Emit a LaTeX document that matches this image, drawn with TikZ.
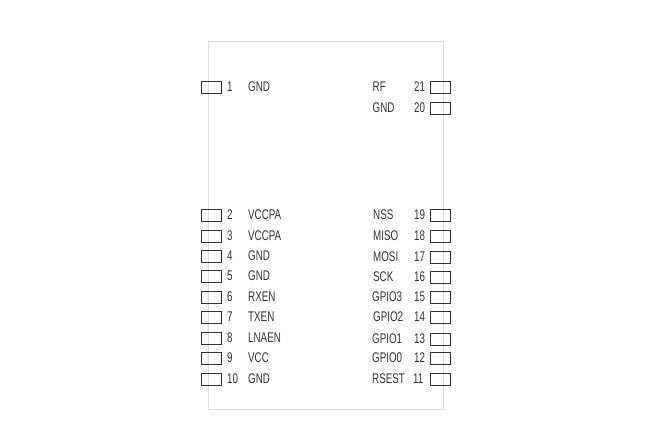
\documentclass[tikz,border=0pt]{standalone}
\usepackage{fontspec}
\setmainfont[FakeStretch=0.70]{Liberation Sans}
\tikzset{
  outline/.style={draw=black!13,line width=0.9pt,fill=none},
  pad/.style={draw=black!80,line width=0.9pt,fill=none,minimum width=20pt,minimum height=12pt,inner sep=0pt,outer sep=0pt},
  lbl/.style={anchor=west,inner sep=0pt,yshift=0.5pt,text=black!80,font=\fontsize{14}{15}\selectfont},
}
\begin{document}
\begin{tikzpicture}[x=1pt,y=-1pt]
\useasboundingbox (0,0) rectangle (649,447);
\node[outline,minimum width=235pt,minimum height=368pt,inner sep=0pt,outer sep=0pt] (module) at (326,225.5) {};
% left side: n / y / name
\foreach \n/\y/\t in {1/87.5/GND,2/215/VCCPA,3/236/VCCPA,4/256/GND,5/276.5/GND,6/297/RXEN,7/317.5/TXEN,8/338/LNAEN,9/358.5/VCC,10/379/GND}{
  \node[pad] (padL\n) at (211.5,\y) {};
  \node[lbl] (numL\n) at (227,\y) {\n};
  \node[lbl] (nameL\n) at (248,\y) {\t};
}
% right side: n / y / name x / name / num x
\foreach \n/\y/\x/\t/\m in {21/87.5/372.5/RF/414,20/108/372.5/GND/414,19/215.5/373/NSS/414,18/236.5/373/MISO/414,17/257.5/373/MOSI/414,16/277/373/SCK/414,15/297/372/GPIO3/414,14/317.5/373/GPIO2/414,13/339/372/GPIO1/414,12/358.5/372/GPIO0/414,11/379/372/RSEST/413}{
  \node[pad] (padR\n) at (440.5,\y) {};
  \node[lbl] (numR\n) at (\m,\y) {\n};
  \node[lbl] (nameR\n) at (\x,\y) {\t};
}
\end{tikzpicture}
\end{document}
